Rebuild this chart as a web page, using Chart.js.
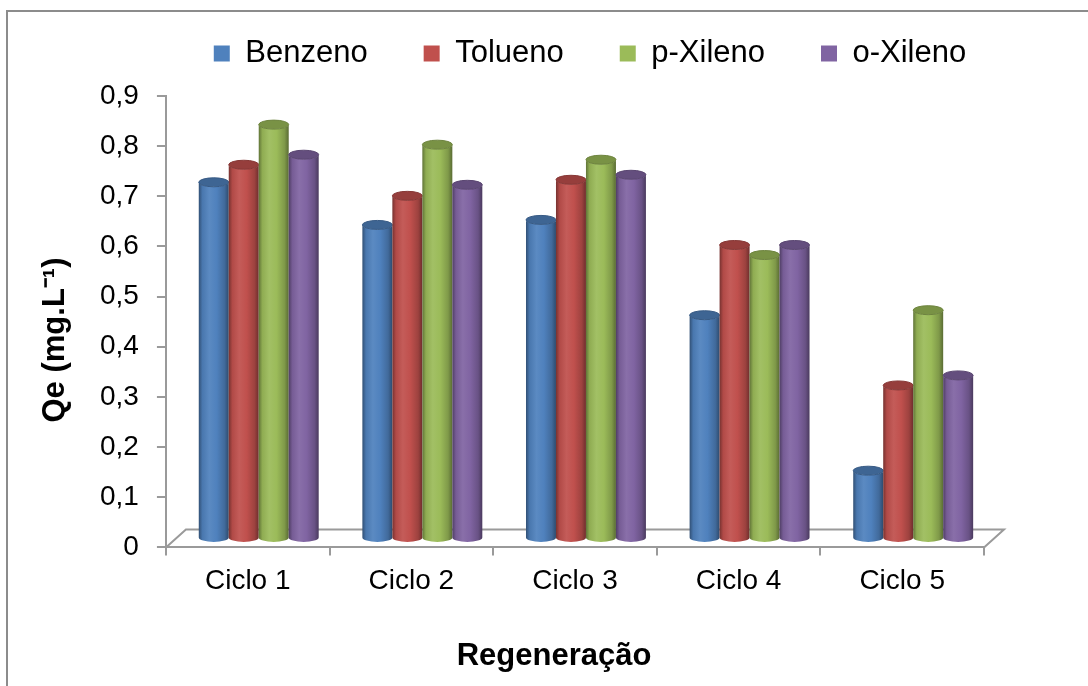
<!DOCTYPE html>
<html>
<head>
<meta charset="utf-8">
<script src="https://cdn.jsdelivr.net/npm/chart.js@4/dist/chart.umd.min.js"></script>
<style>
  html, body { margin: 0; padding: 0; overflow: hidden; background: #fff; }
  #wrap { position: absolute; left: 0; top: 0; width: 1170px; height: 686px; }
</style>
</head>
<body>
<div id="wrap"><canvas id="chart"></canvas></div>
<script>
// Data
const categories = ["Ciclo 1", "Ciclo 2", "Ciclo 3", "Ciclo 4", "Ciclo 5"];
const seriesNames = ["Benzeno", "Tolueno", "p-Xileno", "o-Xileno"];
const benzeno = [0.71, 0.625, 0.635, 0.445, 0.135];
const tolueno = [0.745, 0.683, 0.715, 0.585, 0.305];
const pXileno = [0.825, 0.785, 0.755, 0.565, 0.455];
const oXileno = [0.765, 0.705, 0.725, 0.585, 0.325];
const yTickLabels = ["0", "0,1", "0,2", "0,3", "0,4", "0,5", "0,6", "0,7", "0,8", "0,9"];
const xTitle = "Regeneração";
const yTitle = "Qe (mg.L⁻¹)";
const seriesColors = ["#4F81BD", "#C0504D", "#9BBB59", "#8064A2"];

// 3D look: depth of the floor and where the cylinders sit in it
const FLOOR_DX = 20, FLOOR_DY = 18;
const BAR_DX = 11, BAR_DY = 9;
const CAP_RY = 4.5;
const AXIS_GRAY = "#9a9a9a";
const FONT = "'Liberation Sans', Arial, sans-serif";

Chart.defaults.font.family = FONT;
Chart.defaults.color = "#000";

function shade(hex, f) {
  const n = parseInt(hex.slice(1), 16);
  let r = (n >> 16) & 255, g = (n >> 8) & 255, b = n & 255;
  const t = f < 0 ? 0 : 255, p = Math.abs(f);
  r = Math.round(r + (t - r) * p);
  g = Math.round(g + (t - g) * p);
  b = Math.round(b + (t - b) * p);
  return `rgb(${r},${g},${b})`;
}

function drawCylinder(ctx, cx, top, bottom, rx, color) {
  const grad = ctx.createLinearGradient(cx - rx, 0, cx + rx, 0);
  grad.addColorStop(0, shade(color, -0.38));
  grad.addColorStop(0.12, shade(color, -0.08));
  grad.addColorStop(0.35, shade(color, 0.07));
  grad.addColorStop(0.6, color);
  grad.addColorStop(0.86, shade(color, -0.18));
  grad.addColorStop(1, shade(color, -0.42));
  ctx.fillStyle = grad;
  ctx.beginPath();
  ctx.moveTo(cx - rx, top);
  ctx.lineTo(cx - rx, bottom);
  ctx.ellipse(cx, bottom, rx, CAP_RY, 0, Math.PI, 0, true);
  ctx.lineTo(cx + rx, top);
  ctx.ellipse(cx, top, rx, CAP_RY, 0, 0, Math.PI, false);
  ctx.closePath();
  ctx.fill();

  // top cap
  ctx.beginPath();
  ctx.ellipse(cx, top, rx, CAP_RY, 0, 0, Math.PI * 2);
  ctx.fillStyle = shade(color, -0.22);
  ctx.fill();
  ctx.lineWidth = 1;
  ctx.strokeStyle = shade(color, -0.3);
  ctx.stroke();
}

// outer frame of the chart object (right and bottom edges are cropped)
const framePlugin = {
  id: "frame",
  beforeDraw(chart) {
    const { ctx } = chart;
    ctx.save();
    ctx.strokeStyle = "#8c8c8c";
    ctx.lineWidth = 2;
    ctx.strokeRect(7, 11, 3000, 3000);
    ctx.restore();
  },
};

// axis titles, placed like the Excel original
const axisTitlePlugin = {
  id: "axisTitles",
  afterDraw(chart) {
    const { ctx } = chart;
    ctx.save();
    ctx.fillStyle = "#000";
    ctx.font = `bold 31px ${FONT}`;
    ctx.textAlign = "center";
    ctx.textBaseline = "middle";
    ctx.fillText(xTitle, 554, 656);
    ctx.translate(55, 340);
    ctx.rotate(-Math.PI / 2);
    ctx.fillText(yTitle, 0, 0);
    ctx.restore();
  },
};

// floor + cylinders instead of flat bars
const cylinderPlugin = {
  id: "cylinders",
  beforeDatasetsDraw(chart) {
    const { ctx, chartArea: a } = chart;
    ctx.save();
    ctx.strokeStyle = AXIS_GRAY;
    ctx.lineWidth = 2;
    ctx.beginPath();
    ctx.moveTo(a.left, a.bottom);
    ctx.lineTo(a.left + FLOOR_DX, a.bottom - FLOOR_DY);
    ctx.lineTo(a.right + FLOOR_DX, a.bottom - FLOOR_DY);
    ctx.lineTo(a.right, a.bottom);
    ctx.stroke();

    for (let i = 0; i < categories.length; i++) {
      chart.data.datasets.forEach((ds, d) => {
        const el = chart.getDatasetMeta(d).data[i];
        const { x, y, base, width } = el.getProps(["x", "y", "base", "width"], true);
        drawCylinder(ctx, x + BAR_DX, y - BAR_DY, base - BAR_DY, width / 2, ds.backgroundColor);
      });
    }
    ctx.restore();
    return false;
  },
};

const seriesValues = [benzeno, tolueno, pXileno, oXileno];

new Chart(document.getElementById("chart"), {
  type: "bar",
  data: {
    labels: categories,
    datasets: seriesNames.map((name, i) => ({
      label: name,
      data: seriesValues[i],
      backgroundColor: seriesColors[i],
      borderWidth: 0,
      categoryPercentage: 0.733,
      barPercentage: 1.0,
    })),
  },
  options: {
    responsive: true,
    maintainAspectRatio: false,
    animation: false,
    layout: { padding: { left: 82, top: -18, right: 72, bottom: 79 } },
    plugins: {
      tooltip: { enabled: false },
      legend: {
        display: true,
        position: "top",
        labels: {
          boxWidth: 16,
          boxHeight: 16,
          padding: 56,
          color: "#000",
          font: { size: 31 },
        },
      },
    },
    scales: {
      x: {
        grid: { drawOnChartArea: false, offset: true, tickLength: 8, color: AXIS_GRAY, lineWidth: 2 },
        border: { color: AXIS_GRAY, width: 2 },
        ticks: { padding: 9, color: "#000", font: { size: 28 } },
      },
      x2: {
        position: "top",
        grid: { display: false },
        border: { display: false },
        ticks: { display: false },
        afterFit: (s) => { s.height = 17; },
      },
      y: {
        min: 0,
        max: 0.9,
        ticks: {
          stepSize: 0.1,
          padding: 18,
          color: "#000",
          font: { size: 28 },
          callback: (v, i) => yTickLabels[i] ?? String(v).replace(".", ","),
        },
        grid: { drawOnChartArea: false, tickLength: 9, color: AXIS_GRAY, lineWidth: 2 },
        border: { color: AXIS_GRAY, width: 2 },
      },
      y2: {
        position: "right",
        grid: { display: false },
        border: { display: false },
        ticks: { display: false },
        afterFit: (s) => { s.width = 114; },
      },
    },
  },
  plugins: [framePlugin, cylinderPlugin, axisTitlePlugin],
});
</script>
</body>
</html>
